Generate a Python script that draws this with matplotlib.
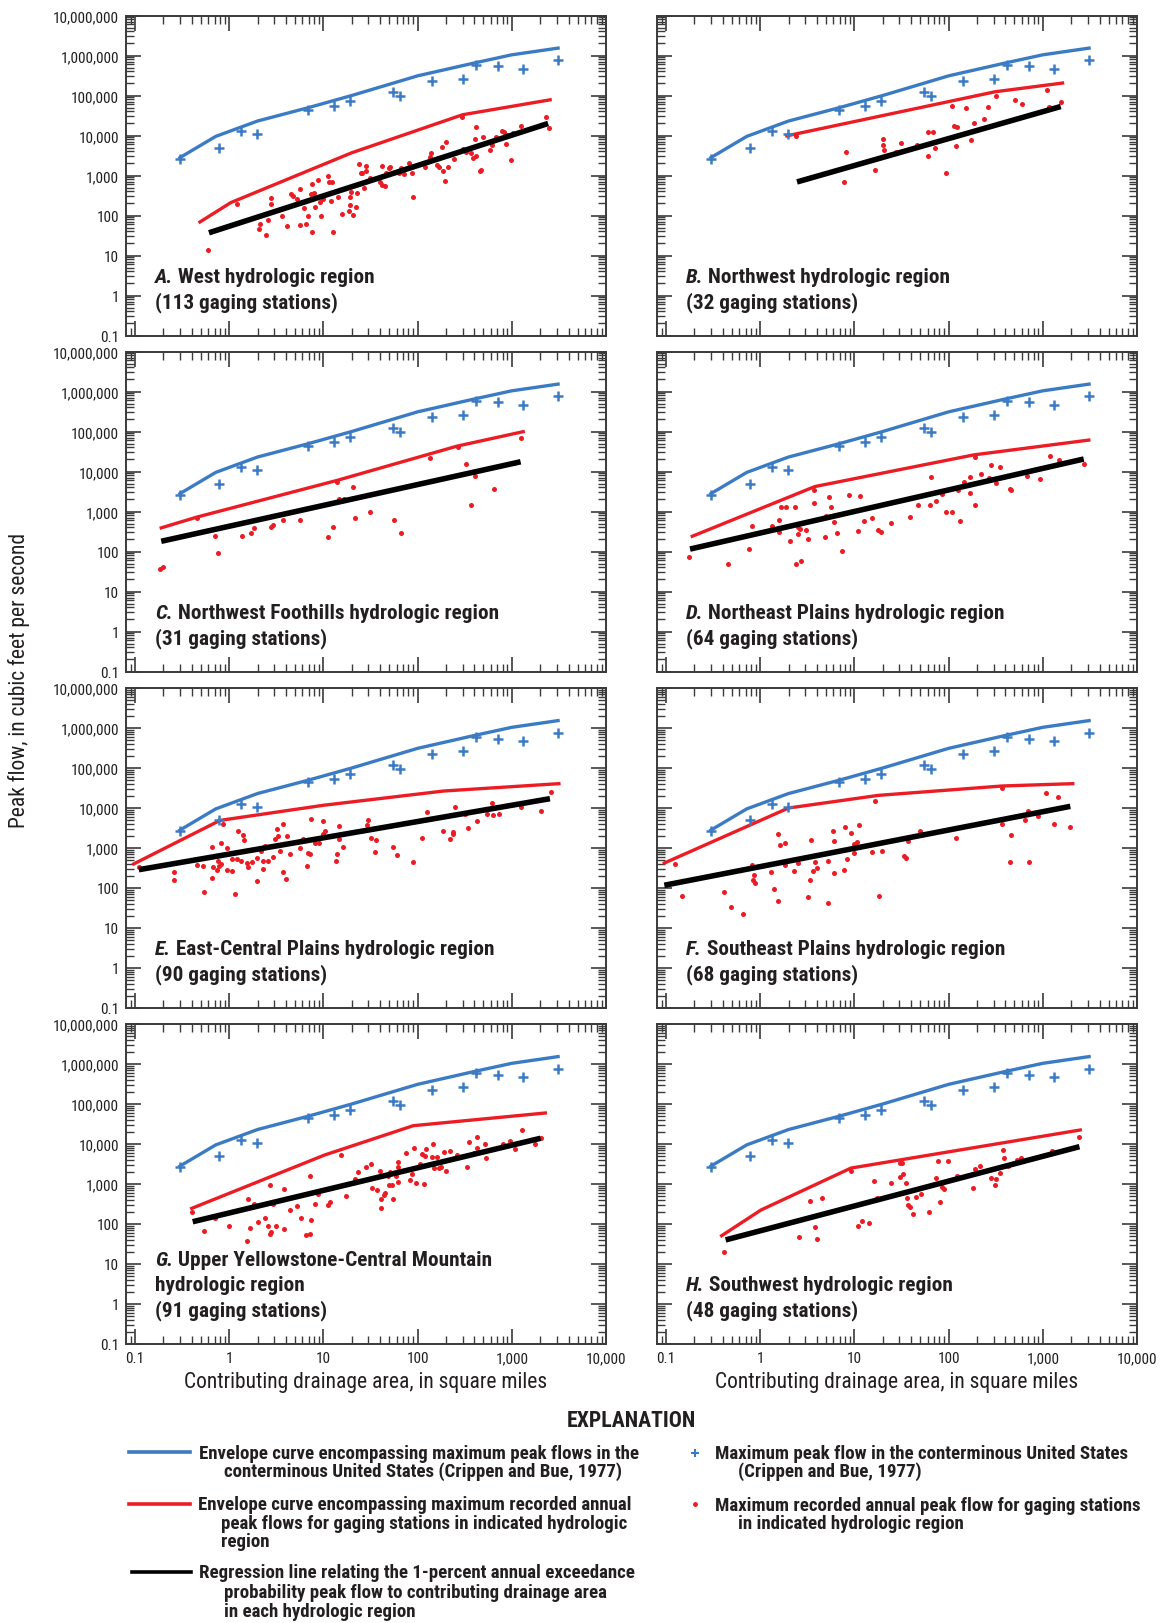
import numpy as np
import matplotlib
matplotlib.use("Agg")
import matplotlib.pyplot as plt
from matplotlib import font_manager
from matplotlib.lines import Line2D
from matplotlib.ticker import FixedLocator, LogLocator, NullFormatter

_have = {f.name for f in font_manager.fontManager.ttflist}
FONT = next((n for n in ["Liberation Sans Narrow", "Roboto Condensed", "DejaVu Sans Condensed",
                         "Open Sans Condensed", "Liberation Sans"] if n in _have), "DejaVu Sans")
plt.rcParams["font.family"] = [FONT, "DejaVu Sans"]

BLUE = "#3b7bc4"
RED = "#ec1c24"
FRAME = "#3a3a3a"
INK = "#231f20"

# envelope curve and maxima for the conterminous United States (same in every panel)
US_ENV_AREA = [0.30, 0.72, 2.0, 7.0, 20, 100, 400, 1000, 3100]
US_ENV_PEAK = [2800, 9500, 23000, 50000, 100000, 310000, 650000, 1040000, 1530000]
US_MAX_AREA = [0.30, 0.78, 1.35, 1.95, 6.9, 12.9, 19.3, 55, 65, 143, 302, 412, 711, 1330, 3130]
US_MAX_PEAK = [2600, 5000, 12600, 10800, 44000, 54000, 71000, 121000, 96000, 224000,
               266000, 584000, 541000, 464000, 750000]

# A. West
A_ENV_AREA = [0.49, 1.04, 20, 300, 2550]
A_ENV_PEAK = [69, 210, 3700, 33000, 78000]
A_REG_AREA = [0.61, 2430]
A_REG_PEAK = [37, 20000]
A_AREA = [0.59, 1.2, 2.08, 2.12, 2.45, 2.57, 2.75, 2.78, 3.64, 4.12,
          4.58, 4.81, 5.3, 5.6, 5.6, 6.3, 6.5, 6.8, 7.3, 7.5,
          7.6, 7.9, 8.1, 8.8, 9.3, 9.4, 10, 11.2, 11.5, 12.4,
          12.7, 11.9, 14.4, 15.9, 18.5, 19.1, 19.6, 20.4, 19.4, 22.4,
          22.9, 23.6, 24.9, 25.9, 28, 27.2, 28.6, 31.5, 40, 41.6,
          42.4, 44.6, 46.7, 50, 51.4, 63.6, 66.7, 71.4, 81, 86.5,
          89, 119, 135, 140, 135, 159, 167, 180, 184, 196,
          202, 212, 245, 303, 327, 367, 385, 408, 416, 420,
          458, 472, 490, 583, 612, 643, 681, 778, 817, 874,
          900, 971, 1020, 1240, 2290, 2470, 297]
A_PEAK = [13.5, 192, 45, 63, 32, 79, 192, 272, 96, 54,
          343, 305, 252, 467, 57, 153, 63, 96, 336, 600,
          39, 370, 165, 770, 216, 96, 252, 970, 685, 685,
          39, 224, 294, 112, 131, 283, 393, 102, 182, 159,
          370, 1940, 1130, 1130, 1760, 475, 1290, 880, 685, 1760,
          577, 545, 1130, 1510, 1660, 1130, 1510, 1090, 2010, 1170,
          294, 1660, 2970, 3730, 2440, 1830, 1660, 5270, 1320, 726,
          7050, 1600, 2590, 4530, 3950, 3730, 2690, 8220, 16100, 3140,
          1320, 1380, 9060, 4350, 5930, 7760, 9060, 13000, 11900, 6280,
          10400, 2440, 11400, 17400, 28200, 15200, 28700]

# B. Northwest
B_ENV_AREA = [1.92, 312, 1620]
B_ENV_PEAK = [9800, 124000, 205000]
B_REG_AREA = [2.46, 1550]
B_REG_PEAK = [690, 53000]
B_AREA = [2.42, 8.2, 7.7, 16.6, 20.3, 20.3, 20.8, 31, 46.6, 61,
          68.7, 60, 71, 94.6, 110, 113, 123, 120, 152, 173,
          185, 236, 259, 320, 508, 603, 1117, 1150, 1550, 27.5]
B_PEAK = [9500, 3760, 705, 1380, 8260, 5850, 4300, 6680, 5850, 12400,
          11900, 3040, 5010, 1140, 53400, 17500, 16200, 5520, 49400, 7800,
          20000, 25700, 51400, 98900, 75500, 60000, 140000, 51400, 68500, 3900]

# C. Northwest Foothills
C_ENV_AREA = [0.19, 0.45, 14, 262, 1320]
C_ENV_PEAK = [390, 720, 6000, 43000, 99000]
C_REG_AREA = [0.19, 1240]
C_REG_PEAK = [180, 17500]
C_AREA = [0.183, 0.199, 0.45, 0.71, 0.76, 1.37, 1.69, 1.83, 2.80, 2.94,
          3.75, 5.6, 11.3, 12.6, 13.9, 14.5, 16.7, 20.5, 21.4, 31.3,
          55.6, 66.5, 136, 269, 327, 372, 404, 654, 1050, 1260]
C_PEAK = [37, 41, 690, 241, 90, 245, 292, 390, 405, 455,
          618, 618, 237, 405, 5430, 2070, 2070, 4150, 680, 980,
          596, 292, 21300, 40900, 15300, 1440, 7670, 3550, 16600, 70100]

# D. Northeast Plains
D_ENV_AREA = [0.19, 3.8, 185, 3080]
D_ENV_PEAK = [240, 4200, 26000, 61000]
D_REG_AREA = [0.18, 2720]
D_REG_PEAK = [115, 20500]
D_AREA = [0.177, 0.456, 0.76, 0.81, 1.32, 1.59, 1.59, 1.67, 1.88, 2.08,
          2.35, 2.39, 2.51, 2.55, 2.65, 2.70, 3.07, 3.2, 3.71, 3.71,
          4.9, 4.98, 5.44, 5.67, 6.1, 6.46, 7.3, 8.8, 10.8, 11.5,
          12.7, 15.2, 17.7, 19.3, 24.2, 38.5, 47.6, 64, 65.5, 74,
          85, 95, 110, 125, 133, 145, 167, 170, 189, 189,
          222, 271, 284, 318, 354, 445, 464, 681, 944, 1190,
          1480, 2720]
D_PEAK = [71, 48, 115, 426, 442, 624, 301, 1270, 1270, 183,
          1270, 49, 417, 274, 365, 57, 351, 205, 1600, 3510,
          226, 785, 2340, 1270, 536, 284, 101, 2580, 331, 2390,
          589, 700, 351, 313, 515, 713, 1420, 1420, 7400, 1820,
          2730, 970, 970, 3430, 578, 5550, 2950, 7130, 1420, 23400,
          8630, 6730, 14800, 5240, 12900, 3640, 3500, 7830, 6350, 23800,
          19700, 15300]

# E. East-Central Plains
E_ENV_AREA = [0.097, 0.80, 10, 190, 3160]
E_ENV_PEAK = [400, 4900, 11700, 26600, 40600]
E_REG_AREA = [0.11, 2540]
E_REG_PEAK = [287, 17100]
E_AREA = [0.11, 0.258, 0.26, 0.457, 0.53, 0.547, 0.66, 0.66, 0.68, 0.75,
          0.77, 0.78, 0.81, 0.82, 0.85, 0.94, 0.94, 1.06, 1.08, 1.15,
          1.2, 1.25, 1.35, 1.39, 1.43, 1.53, 1.59, 1.76, 1.95, 1.95,
          2.17, 2.28, 2.3, 2.39, 2.58, 2.92, 3.03, 3.19, 3.32, 3.43,
          3.69, 3.75, 3.97, 4.07, 4.42, 5.65, 6.12, 6.76, 6.81, 7.21,
          7.4, 8.2, 9.0, 10, 10, 10.3, 13.7, 13.9, 14.5, 14.7,
          16.3, 29.2, 29.6, 32.1, 34.9, 36.3, 54.7, 59.8, 89, 111,
          125, 188, 221, 236, 236, 252, 316, 340, 425, 547,
          618, 633, 727, 1240, 2020, 2580]
E_PEAK = [329, 247, 158, 376, 348, 78, 1080, 175, 329, 282,
          464, 355, 398, 1310, 4060, 981, 282, 541, 266, 70,
          541, 2660, 482, 2070, 1560, 430, 335, 447, 562, 150,
          826, 482, 293, 1120, 482, 607, 1680, 2930, 2000, 858,
          256, 3910, 168, 2000, 695, 1000, 1710, 362, 736, 708,
          5310, 1310, 1310, 2280, 4640, 2610, 464, 695, 1650, 3480,
          1060, 3690, 5110, 1740, 780, 1610, 1040, 668, 447, 1810,
          7940, 2610, 1680, 2200, 2460, 10400, 6950, 3220, 4730, 7220,
          13600, 6680, 6950, 10400, 8580, 25600]

# F. Southeast Plains
F_ENV_AREA = [0.096, 2.0, 18, 370, 2080]
F_ENV_PEAK = [420, 10000, 20700, 35500, 40600]
F_REG_AREA = [0.096, 1960]
F_REG_PEAK = [117, 11000]
F_AREA = [0.125, 0.147, 0.41, 0.494, 0.66, 0.81, 0.86, 0.83, 0.88, 1.30,
          1.41, 1.56, 1.56, 1.64, 1.85, 1.85, 2.29, 2.55, 3.2, 3.39,
          3.45, 3.68, 3.83, 3.99, 5.27, 5.31, 6.0, 6.1, 6.15, 7.85,
          7.98, 8.39, 9.17, 9.86, 10, 10.7, 11.3, 15.2, 16.4, 18.2,
          19.6, 33.3, 35.2, 37, 49.2, 121, 366, 369, 453, 464,
          653, 697, 709, 891, 1090, 1300, 1440, 1930]
F_PEAK = [406, 63, 81, 33.5, 22.8, 383, 215, 156, 136, 251,
          96, 2200, 47, 1210, 1360, 369, 261, 422, 60, 161,
          1560, 266, 455, 316, 464, 41, 2610, 237, 1470, 287,
          3350, 521, 2330, 1240, 750, 1410, 3690, 780, 15200, 63,
          841, 619, 573, 1470, 2610, 1810, 4060, 31600, 447, 2150,
          4920, 8260, 447, 6310, 24200, 3910, 18500, 3290]

# G. Upper Yellowstone-Central Mountain
G_ENV_AREA = [0.40, 10.3, 90, 2270]
G_ENV_PEAK = [246, 5300, 28700, 59600]
G_REG_AREA = [0.41, 2020]
G_REG_PEAK = [114, 13900]
G_AREA = [0.40, 0.535, 0.71, 0.99, 1.56, 1.6, 1.67, 1.82, 2.02, 2.4,
          2.57, 2.7, 2.76, 2.73, 2.91, 3.15, 3.78, 3.85, 4.45, 5.3,
          5.78, 6.49, 7.28, 7.42, 7.28, 8.09, 8.83, 11.1, 11.8, 15.4,
          17.3, 21.8, 23.3, 28.6, 32.4, 32.7, 37.4, 40.1, 40.8, 41.2,
          43.6, 44.6, 49, 49.5, 50.5, 53, 54.5, 59.4, 61.2, 61.2,
          62.4, 74.8, 83.4, 88.3, 90.8, 97, 107, 112, 117, 119,
          122, 146, 143, 150, 159, 167, 177, 189, 198, 220,
          265, 337, 353, 393, 429, 429, 530, 525, 802, 953,
          1090, 1270, 1750, 2020]
G_PEAK = [203, 68, 139, 91, 37, 422, 79, 316, 112, 144,
          91, 57, 62, 926, 310, 87, 750, 76, 224, 287,
          139, 52, 1610, 126, 55, 310, 562, 304, 361, 5410,
          492, 1360, 2000, 2710, 3220, 780, 695, 2150, 246, 422,
          541, 596, 1560, 962, 2030, 944, 414, 1610, 3480, 2710,
          1140, 5850, 1260, 1810, 7800, 1040, 3100, 5620, 1000, 5110,
          7360, 9820, 4820, 2460, 4820, 2460, 2610, 6310, 2110, 6680,
          5310, 2610, 11000, 5850, 15000, 7940, 4550, 9820, 10000, 12100,
          7360, 22400, 9820, 13900]

# H. Southwest
H_ENV_AREA = [0.39, 1.02, 9.2, 2500]
H_ENV_PEAK = [51, 224, 2500, 22400]
H_REG_AREA = [0.43, 2450]
H_REG_PEAK = [40, 8580]
H_AREA = [0.415, 2.59, 3.39, 3.86, 4.02, 4.51, 9.3, 10.9, 11.9, 14.3,
          16, 17.3, 24.3, 30.3, 30.5, 32.3, 32.8, 35.6, 35.9, 37,
          38.9, 41.9, 44.7, 50.9, 62.4, 77.1, 72.8, 80.9, 84.3, 89.3,
          97.5, 122, 181, 190, 218, 279, 313, 318, 348, 377,
          389, 426, 535, 580, 1260, 2450]
H_PEAK = [20, 48, 383, 83, 41, 438, 2150, 91, 121, 104,
          1170, 438, 1040, 3290, 1520, 3290, 1780, 1040, 438, 299,
          261, 181, 464, 562, 200, 3690, 1390, 348, 858, 750,
          3830, 1560, 809, 2370, 2770, 1410, 927, 1360, 1880, 7080,
          4470, 2870, 3980, 4470, 6810, 14700]

LETTERS = ["A", "B", "C", "D", "E", "F", "G", "H"]
NAMES = ["West hydrologic region", "Northwest hydrologic region",
         "Northwest Foothills hydrologic region", "Northeast Plains hydrologic region",
         "East-Central Plains hydrologic region", "Southeast Plains hydrologic region",
         "Upper Yellowstone-Central Mountain\nhydrologic region", "Southwest hydrologic region"]
STATIONS = ["(113 gaging stations)", "(32 gaging stations)", "(31 gaging stations)",
            "(64 gaging stations)", "(90 gaging stations)", "(68 gaging stations)",
            "(91 gaging stations)", "(48 gaging stations)"]

X_TICKS = [0.1, 1, 10, 100, 1000, 10000]
X_LABELS = ["0.1", "1", "10", "100", "1,000", "10,000"]
Y_TICKS = [0.1, 1, 10, 100, 1e3, 1e4, 1e5, 1e6, 1e7]
Y_LABELS = ["0.1", "1", "10", "100", "1,000", "10,000", "100,000", "1,000,000", "10,000,000"]

PANELS = [
    (A_AREA, A_PEAK, A_ENV_AREA, A_ENV_PEAK, A_REG_AREA, A_REG_PEAK),
    (B_AREA, B_PEAK, B_ENV_AREA, B_ENV_PEAK, B_REG_AREA, B_REG_PEAK),
    (C_AREA, C_PEAK, C_ENV_AREA, C_ENV_PEAK, C_REG_AREA, C_REG_PEAK),
    (D_AREA, D_PEAK, D_ENV_AREA, D_ENV_PEAK, D_REG_AREA, D_REG_PEAK),
    (E_AREA, E_PEAK, E_ENV_AREA, E_ENV_PEAK, E_REG_AREA, E_REG_PEAK),
    (F_AREA, F_PEAK, F_ENV_AREA, F_ENV_PEAK, F_REG_AREA, F_REG_PEAK),
    (G_AREA, G_PEAK, G_ENV_AREA, G_ENV_PEAK, G_REG_AREA, G_REG_PEAK),
    (H_AREA, H_PEAK, H_ENV_AREA, H_ENV_PEAK, H_REG_AREA, H_REG_PEAK),
]

W, H = 1161, 1624
fig = plt.figure(figsize=(W / 100, H / 100), dpi=100)


def fx(px):
    return px / W


def fy(py):
    return 1 - py / H


AX_W, AX_H = 480, 320
COL_LEFT = [126, 657]
ROW_TOP = [16.5, 352.5, 689, 1025]
TITLE_FS = 15.3
LABEL_FS = 15.5
LEG_FS = 13.6


def panel_label(ax, letter, name, stations):
    lines = name.split("\n") + [stations]
    n = len(lines)
    ys = [0.106 + 0.0797 * (n - 1 - i) for i in range(n)]
    head = ax.text(0.06, ys[0], letter + ".", transform=ax.transAxes, fontsize=TITLE_FS,
                   fontweight="bold", fontstyle="italic", va="center", ha="left", color=INK)
    ax.annotate(" " + lines[0], xy=(1, 0.5), xycoords=head, va="center", ha="left",
                fontsize=TITLE_FS, fontweight="bold", color=INK)
    for y, s in zip(ys[1:], lines[1:]):
        ax.text(0.06, y, s, transform=ax.transAxes, fontsize=TITLE_FS, fontweight="bold",
                va="center", ha="left", color=INK)


for i, (area, peak, env_a, env_p, reg_a, reg_p) in enumerate(PANELS):
    row, col = divmod(i, 2)
    ax = fig.add_axes([fx(COL_LEFT[col]), fy(ROW_TOP[row] + AX_H), fx(AX_W), AX_H / H])
    ax.set_xscale("log")
    ax.set_yscale("log")

    ax.plot(US_ENV_AREA, US_ENV_PEAK, color=BLUE, lw=2.4, zorder=3)
    ax.plot(US_MAX_AREA, US_MAX_PEAK, ls="none", marker="+", ms=7, mew=1.8, color=BLUE, zorder=4)
    ax.plot(env_a, env_p, color=RED, lw=2.4, zorder=3)
    ax.scatter(area, peak, s=13, color=RED, lw=0, zorder=4)
    ax.plot(reg_a, reg_p, color="black", lw=4, solid_capstyle="butt", zorder=5)

    ax.set_xlim(0.0803, 1e4)
    ax.set_ylim(0.1, 1e7)
    ax.xaxis.set_major_locator(FixedLocator(X_TICKS))
    ax.yaxis.set_major_locator(FixedLocator(Y_TICKS))
    ax.xaxis.set_minor_locator(LogLocator(base=10, subs=np.arange(2, 10), numticks=100))
    ax.yaxis.set_minor_locator(LogLocator(base=10, subs=np.arange(2, 10), numticks=100))
    ax.xaxis.set_minor_formatter(NullFormatter())
    ax.yaxis.set_minor_formatter(NullFormatter())
    ax.set_xticklabels(X_LABELS if row == 3 else [])
    ax.set_yticklabels(Y_LABELS if col == 0 else [])

    ax.tick_params(which="both", direction="in", top=True, right=True, color=FRAME,
                   labelsize=11, pad=5, labelcolor=INK)
    ax.tick_params(which="major", length=11, width=1.2)
    ax.tick_params(which="minor", length=6, width=1.0)
    for sp in ax.spines.values():
        sp.set_color(FRAME)
        sp.set_linewidth(1.4)

    panel_label(ax, LETTERS[i], NAMES[i], STATIONS[i])

for col in range(2):
    fig.text(fx(COL_LEFT[col] + AX_W / 2), fy(1383), "Contributing drainage area, in square miles",
             ha="center", va="center", fontsize=LABEL_FS, color=INK)
fig.text(fx(19), fy(680), "Peak flow, in cubic feet per second", rotation=90,
         ha="center", va="center", fontsize=LABEL_FS, color=INK)

# explanation
fig.text(fx(631), fy(1421), "EXPLANATION", ha="center", va="center", fontsize=15.7,
         fontweight="bold", color=INK)
fig.add_artist(Line2D([fx(129), fx(190)], [fy(1453)] * 2, color=BLUE, lw=2.6, transform=fig.transFigure))
fig.add_artist(Line2D([fx(129), fx(190)], [fy(1505)] * 2, color=RED, lw=2.6, transform=fig.transFigure))
fig.add_artist(Line2D([fx(132), fx(191)], [fy(1573)] * 2, color="black", lw=2.6, transform=fig.transFigure))
fig.add_artist(Line2D([fx(695)], [fy(1454)], ls="none", marker="+", ms=6, mew=1.5, color=BLUE,
                      transform=fig.transFigure))
fig.add_artist(Line2D([fx(695)], [fy(1505)], ls="none", marker="o", ms=3.5, mew=0, color=RED,
                      transform=fig.transFigure))

LEGEND_LINES = [
    (199, 1454, "Envelope curve encompassing maximum peak flows in the"),
    (224, 1472, "conterminous United States (Crippen and Bue, 1977)"),
    (198, 1505, "Envelope curve encompassing maximum recorded annual"),
    (221, 1524, "peak flows for gaging stations in indicated hydrologic"),
    (221, 1542, "region"),
    (199, 1573, "Regression line relating the 1-percent annual exceedance"),
    (224, 1593, "probability peak flow to contributing drainage area"),
    (224, 1612, "in each hydrologic region"),
    (715, 1454, "Maximum peak flow in the conterminous United States"),
    (738, 1472, "(Crippen and Bue, 1977)"),
    (715, 1506, "Maximum recorded annual peak flow for gaging stations"),
    (738, 1524, "in indicated hydrologic region"),
]
for x, y, s in LEGEND_LINES:
    fig.text(fx(x), fy(y), s, ha="left", va="center", fontsize=LEG_FS, fontweight="bold",
             color=INK)

fig.savefig("out.png", dpi=100)
